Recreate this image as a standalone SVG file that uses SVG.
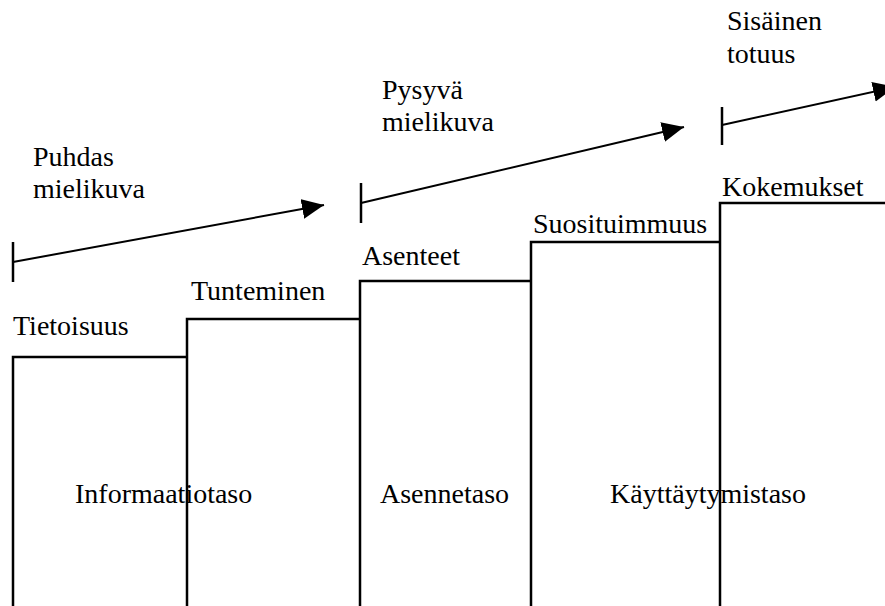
<svg xmlns="http://www.w3.org/2000/svg" width="885" height="606" viewBox="0 0 885 606">
<style>
  .lbl { font-family: "Liberation Serif", "Times New Roman", Times, "DejaVu Serif", serif; font-size: 28px; fill: #000; }
  .edge { fill: none; stroke: #000; stroke-width: 2.5; }
  .arrow { fill: none; stroke: #000; stroke-width: 2; }
  .tick { stroke: #000; stroke-width: 2.5; }
</style>
<defs>
  <marker id="head" markerUnits="userSpaceOnUse" markerWidth="24" markerHeight="22" refX="22" refY="10" orient="auto">
    <path d="M0,0 L22,10 L0,20 Z" fill="#000"/>
  </marker>
</defs>
<rect width="885" height="606" fill="#fff"/>

<g font-family="Liberation Serif, serif" font-size="28">
<g id="step-tietoisuus">
  <path class="edge" d="M13,606 V357 H187"/>
  <text class="lbl" x="13" y="335">Tietoisuus</text>
</g>
<g id="step-tunteminen">
  <path class="edge" d="M187,606 V319 H360"/>
  <text class="lbl" x="191" y="300">Tunteminen</text>
</g>
<g id="step-asenteet">
  <path class="edge" d="M360,606 V281 H531"/>
  <text class="lbl" x="362" y="265">Asenteet</text>
</g>
<g id="step-suosituimmuus">
  <path class="edge" d="M531,606 V242 H720"/>
  <text class="lbl" x="533" y="233">Suosituimmuus</text>
</g>
<g id="step-kokemukset">
  <path class="edge" d="M720,606 V203 H885"/>
  <text class="lbl" x="722" y="196">Kokemukset</text>
</g>

<g id="levels">
  <text class="lbl" x="75" y="503">Informaatiotaso</text>
  <text class="lbl" x="380" y="503">Asennetaso</text>
  <text class="lbl" x="610" y="503">Käyttäytymistaso</text>
</g>

<g id="phase-labels">
  <text class="lbl" x="33" y="166">Puhdas</text>
  <text class="lbl" x="33" y="198">mielikuva</text>
  <text class="lbl" x="382" y="99">Pysyvä</text>
  <text class="lbl" x="382" y="131">mielikuva</text>
  <text class="lbl" x="727" y="30">Sisäinen</text>
  <text class="lbl" x="727" y="63">totuus</text>
</g>
</g>

<g id="connectors">
  <line class="tick" x1="13" y1="242" x2="13" y2="282"/>
  <line class="arrow" x1="13" y1="262" x2="324" y2="205" marker-end="url(#head)"/>
  <line class="tick" x1="361" y1="183" x2="361" y2="223"/>
  <line class="arrow" x1="361" y1="203" x2="684" y2="127" marker-end="url(#head)"/>
  <line class="tick" x1="722" y1="107" x2="722" y2="145"/>
  <line class="arrow" x1="722" y1="125" x2="895" y2="87" marker-end="url(#head)"/>
</g>
</svg>
